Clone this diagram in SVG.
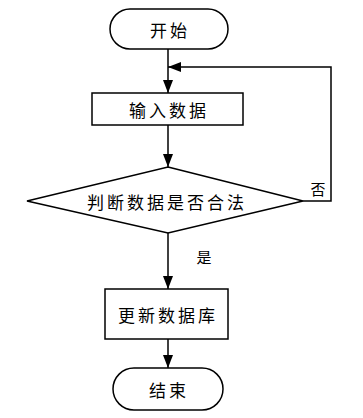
<svg xmlns="http://www.w3.org/2000/svg" width="363" height="418" viewBox="0 0 363 418">
<style>
.shape{fill:#fff;stroke:#000;stroke-width:1.5}
.lbl{font-family:"Noto Sans CJK SC","Noto Sans",sans-serif;font-size:17px;fill:#000;text-anchor:middle;dominant-baseline:central;letter-spacing:3px}
.small{font-family:"Noto Sans CJK SC","Noto Sans",sans-serif;font-size:15px;fill:#000;text-anchor:middle;dominant-baseline:central}
.edge{fill:none;stroke:#000;stroke-width:1.5}
</style>
<defs>
<marker id="arr" viewBox="0 0 13 10" refX="13" refY="5" markerWidth="13" markerHeight="10" markerUnits="userSpaceOnUse" orient="auto">
<path d="M0,0 L13,5 L0,10 Z" fill="#000"/>
</marker>
</defs>
<rect width="363" height="418" fill="#fff"/>
<g id="edges">
<line class="edge" x1="168" y1="49" x2="168" y2="93" marker-end="url(#arr)"/>
<line class="edge" x1="168" y1="125" x2="168" y2="167" marker-end="url(#arr)"/>
<line class="edge" x1="168" y1="233" x2="168" y2="289" marker-end="url(#arr)"/>
<line class="edge" x1="168" y1="339" x2="168" y2="368" marker-end="url(#arr)"/>
<polyline class="edge" points="303,201 331,201 331,67 168,67" marker-end="url(#arr)"/>
<text class="small" x="318" y="188">否</text>
<text class="small" x="204" y="256">是</text>
</g>
<g id="start">
<rect class="shape" x="110" y="9" width="118" height="40" rx="20" ry="20"/>
<text class="lbl" x="170" y="29">开始</text>
</g>
<g id="input">
<rect class="shape" x="92" y="93" width="151" height="32"/>
<text class="lbl" x="169" y="109">输入数据</text>
</g>
<g id="check">
<polygon class="shape" points="168,167 303,201 168,233 27,201"/>
<text class="lbl" x="167" y="201">判断数据是否合法</text>
</g>
<g id="update">
<rect class="shape" x="105" y="289" width="123" height="50"/>
<text class="lbl" x="168" y="314">更新数据库</text>
</g>
<g id="end">
<rect class="shape" x="113" y="368" width="110" height="42" rx="21" ry="21"/>
<text class="lbl" x="169" y="389">结束</text>
</g>
</svg>
